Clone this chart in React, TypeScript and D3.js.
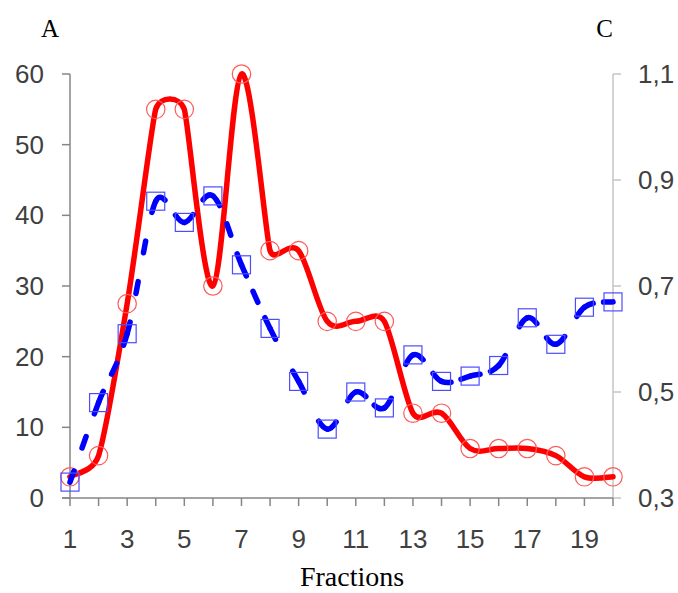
import React from "react";
import * as d3 from "d3";

const fractions = [1, 2, 3, 4, 5, 6, 7, 8, 9, 10, 11, 12, 13, 14, 15, 16, 17, 18, 19, 20];
const seriesA = [3, 6, 27.5, 55, 55, 30, 60, 35, 35, 25, 25, 25, 12, 12, 7, 7, 7, 6, 3, 3];
const seriesC = [0.33, 0.48, 0.61, 0.86, 0.82, 0.87, 0.74, 0.62, 0.52, 0.43, 0.5, 0.47, 0.57, 0.52, 0.53, 0.55, 0.64, 0.59, 0.66, 0.67];
const leftTicks = [0, 10, 20, 30, 40, 50, 60];
const rightTicks = [0.3, 0.5, 0.7, 0.9, 1.1];
const xLabelTicks = [1, 3, 5, 7, 9, 11, 13, 15, 17, 19];

// Excel-like smoothed line as a d3 custom curve
function ExcelCurve(this: any, context: any) {
  this._context = context;
}
ExcelCurve.prototype = {
  areaStart() { this._line = 0; },
  areaEnd() { this._line = NaN; },
  lineStart() { this._pts = []; },
  point(x: number, y: number) { this._pts.push([+x, +y]); },
  lineEnd() {
    const p: number[][] = this._pts;
    const n = p.length;
    const c = this._context;
    if (!n) return;
    c.moveTo(p[0][0], p[0][1]);
    if (n === 1) return;
    if (n === 2) { c.lineTo(p[1][0], p[1][1]); return; }
    const dist = (a: number[], b: number[]) => Math.hypot(b[0] - a[0], b[1] - a[1]);
    const factor = (A: number[], B: number[], C: number[]) => {
      const d = dist(A, C);
      if (d === 0) return 0;
      const dAB = dist(A, B), dBC = dist(B, C);
      const lim = Math.min(dAB || Infinity, dBC || Infinity) / 2;
      let f = 1 / 6;
      if (d * f > lim) f = lim / d;
      return f;
    };
    for (let i = 0; i < n - 1; i++) {
      const P0 = p[Math.max(i - 1, 0)], P1 = p[i], P2 = p[i + 1], P3 = p[Math.min(i + 2, n - 1)];
      const f1 = factor(P0, P1, P2);
      const f2 = factor(P1, P2, P3);
      const c1x = P1[0] + (P2[0] - P0[0]) * f1, c1y = P1[1] + (P2[1] - P0[1]) * f1;
      const c2x = P2[0] - (P3[0] - P1[0]) * f2, c2y = P2[1] - (P3[1] - P1[1]) * f2;
      c.bezierCurveTo(c1x, c1y, c2x, c2y, P2[0], P2[1]);
    }
  },
};
const excelCurve = (context: any) => new (ExcelCurve as any)(context);

const x = d3.scaleLinear().domain([1, 20]).range([70, 613]);
const yL = d3.scaleLinear().domain([0, 60]).range([498, 74]);
const yR = d3.scaleLinear().domain([0.3, 1.1]).range([498, 74]);

const lineA = d3.line<number>().x((_, i) => x(fractions[i])).y((d) => yL(d)).curve(excelCurve as any);

function segmentsOf(values: number[]) {
  const segs: { d: string; len: number }[] = [];
  let cx = 0, cy = 0;
  const ctx: any = {
    moveTo(a: number, b: number) { cx = a; cy = b; },
    lineTo(a: number, b: number) {
      segs.push({ d: `M${cx},${cy}L${a},${b}`, len: Math.hypot(a - cx, b - cy) });
      cx = a; cy = b;
    },
    bezierCurveTo(a: number, b: number, c: number, d: number, e: number, f: number) {
      let len = 0, px = cx, py = cy;
      for (let k = 1; k <= 60; k++) {
        const t = k / 60, u = 1 - t;
        const qx = u * u * u * cx + 3 * u * u * t * a + 3 * u * t * t * c + t * t * t * e;
        const qy = u * u * u * cy + 3 * u * u * t * b + 3 * u * t * t * d + t * t * t * f;
        len += Math.hypot(qx - px, qy - py);
        px = qx; py = qy;
      }
      segs.push({ d: `M${cx},${cy}C${a},${b},${c},${d},${e},${f}`, len });
      cx = e; cy = f;
    },
    closePath() {},
  };
  d3.line<number>().x((_, i) => x(fractions[i])).y((v) => yR(v)).curve(excelCurve as any).context(ctx)(values);
  return segs;
}

function dashFor(len: number) {
  const dash = 12;
  const period = 36;
  let n = Math.max(1, Math.round((len - dash) / period));
  let gap = (len - (n + 1) * dash) / n;
  while (n > 1 && gap < 14) { n--; gap = (len - (n + 1) * dash) / n; }
  if (n === 1 && gap < 12) {
    const g = Math.min(12, Math.max(8, len * 0.35));
    const dd = (len - g) / 2;
    return `${dd} ${g}`;
  }
  return `${dash} ${gap}`;
}

export default function App() {
  const segs = segmentsOf(seriesC);
  const axisDark = "#868686";
  const axisLight = "#c4c4c4";
  const labelColor = "#404040";
  const sans = "'Liberation Sans', Arial, sans-serif";
  const serif = "'Liberation Serif', 'Times New Roman', serif";
  return (
    <svg width={678} height={593} style={{ position: "absolute", left: 0, top: 0, background: "#fff" }}>
      <rect x={0} y={0} width={678} height={593} fill="#fff" />
      {/* left axis */}
      <line x1={70} x2={70} y1={yL(60)} y2={yL(0)} stroke={axisDark} strokeWidth={1.5} />
      {leftTicks.map((t) => (
        <g key={"l" + t}>
          <line x1={62} x2={70} y1={yL(t)} y2={yL(t)} stroke={axisDark} strokeWidth={1.5} />
          <text x={44} y={yL(t) + 9} textAnchor="end" fontFamily={sans} fontSize={26} fill={labelColor}>{t}</text>
        </g>
      ))}
      {/* right axis */}
      <line x1={613} x2={613} y1={yR(1.1)} y2={yR(0.3)} stroke={axisLight} strokeWidth={1.5} />
      {rightTicks.map((t) => (
        <g key={"r" + t}>
          <line x1={613} x2={621} y1={yR(t)} y2={yR(t)} stroke={axisLight} strokeWidth={1.5} />
          <text x={638} y={yR(t) + 9} textAnchor="start" fontFamily={sans} fontSize={26} fill={labelColor}>{t.toFixed(1).replace(".", ",")}</text>
        </g>
      ))}
      {/* bottom axis */}
      <line x1={62} x2={613} y1={498} y2={498} stroke={axisDark} strokeWidth={1.5} />
      {fractions.map((f) => (
        <line key={"t" + f} x1={x(f)} x2={x(f)} y1={498} y2={506} stroke={axisDark} strokeWidth={1.5} />
      ))}
      {xLabelTicks.map((f) => (
        <text key={"xl" + f} x={x(f)} y={548} textAnchor="middle" fontFamily={sans} fontSize={26} fill={labelColor}>{f}</text>
      ))}
      {/* series A */}
      <path d={lineA(seriesA) || ""} fill="none" stroke="#ff0000" strokeWidth={5.5} strokeLinejoin="round" strokeLinecap="round" />
      {seriesA.map((v, i) => (
        <circle key={"a" + i} cx={x(fractions[i])} cy={yL(v)} r={9.2} fill="none" stroke="#ff5a5a" strokeWidth={1.2} />
      ))}
      {/* series C */}
      {segs.map((s, i) => (
        <path key={"s" + i} d={s.d} fill="none" stroke="#0000ff" strokeWidth={5.5} strokeLinecap="round" strokeDasharray={dashFor(s.len)} />
      ))}
      {seriesC.map((v, i) => (
        <rect key={"c" + i} x={x(fractions[i]) - 9} y={yR(v) - 9} width={18} height={18} fill="none" stroke="#4d4dff" strokeWidth={1.2} />
      ))}
      {/* titles */}
      <text x={41} y={37} fontFamily={serif} fontSize={25} fill="#000">A</text>
      <text x={613} y={37} textAnchor="end" fontFamily={serif} fontSize={25} fill="#000">C</text>
      <text x={352} y={586} textAnchor="middle" fontFamily={serif} fontSize={28} fill="#000">Fractions</text>
    </svg>
  );
}
